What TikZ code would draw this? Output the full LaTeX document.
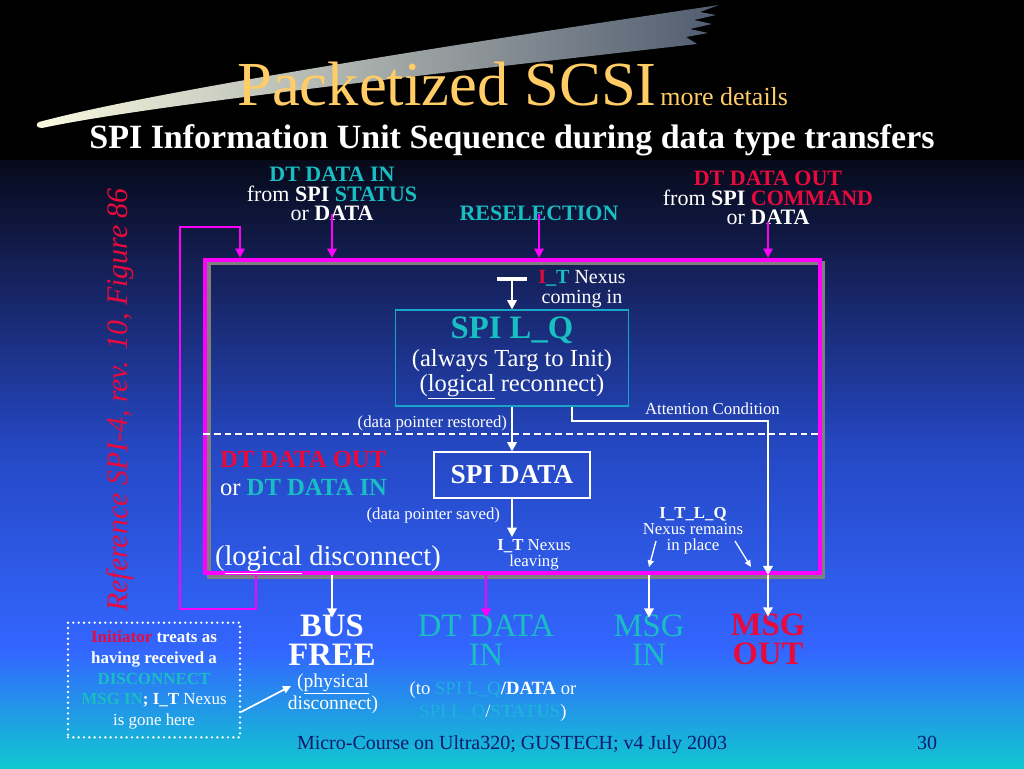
\documentclass[tikz,border=0pt]{standalone}
\usepackage{fontspec}
\setmainfont{Liberation Serif}
\usetikzlibrary{arrows.meta}

\definecolor{bgtop}{RGB}{6,10,26}
\definecolor{bgnavy}{RGB}{20,30,82}
\definecolor{bgmid}{RGB}{37,72,196}
\definecolor{bgblue}{RGB}{51,102,255}
\definecolor{bgcyan}{RGB}{16,200,208}
\definecolor{comethead}{RGB}{250,250,225}
\definecolor{comettail}{RGB}{80,92,112}
\definecolor{ttlgold}{RGB}{255,204,102}
\definecolor{spiteal}{RGB}{25,190,195}
\definecolor{skyteal}{RGB}{30,176,220}
\definecolor{spired}{RGB}{232,10,60}
\definecolor{spimag}{RGB}{255,0,255}
\definecolor{lqedge}{RGB}{25,165,200}
\definecolor{footnavy}{RGB}{14,26,110}

\newcommand{\pxfont}[2]{\fontsize{#1}{#2}\selectfont}

\tikzset{
  txt/.style={text=white, inner sep=0pt, outer sep=0pt, align=center},
  toplbl/.style={txt, font=\pxfont{16.5}{14.6}},
  biglbl/.style={txt, font=\pxfont{24.5}{21.75}, anchor=north},
  smalllbl/.style={txt, font=\pxfont{12.6}{12}},
  whitearrow/.style={draw=white, line width=2pt, -{Triangle[length=7pt,width=7pt]}},
  magarrow/.style={draw=spimag, line width=2pt, -{Triangle[length=7pt,width=7pt]}},
  pointer/.style={draw=white, line width=1pt, -{Triangle[length=5pt,width=4.5pt]}},
  frame/.style={draw=spimag, line width=3pt, minimum width=461pt, minimum height=235pt, inner sep=0pt},
  lqbox/.style={draw=lqedge, line width=0.8pt, minimum width=174.75pt, minimum height=72pt,
    inner sep=0pt, align=center, text=white, font=\pxfont{18.4}{18.75}},
  databox/.style={draw=white, line width=0.8pt, minimum width=117pt, minimum height=34.5pt,
    inner sep=0pt, text=white, font=\pxfont{20.5}{22}\bfseries},
  notebox/.style={draw=white, line width=2pt, dash pattern=on 0pt off 4pt, line cap=round,
    minimum width=129pt, minimum height=86pt, inner sep=0pt, align=center, text=white,
    font=\pxfont{12.7}{15.4}},
}

\begin{document}
\begin{tikzpicture}[x=0.75pt,y=-0.75pt]

  % slide background
  \useasboundingbox (0,0) rectangle (1024,768);
  \fill[black] (0,0) rectangle (1024,161);
  \shade[top color=bgtop, bottom color=bgnavy] (0,160) rectangle (1024,261);
  \shade[top color=bgnavy, bottom color=bgmid] (0,260) rectangle (1024,451);
  \shade[top color=bgmid, bottom color=bgblue] (0,450) rectangle (1024,651);
  \shade[top color=bgblue, bottom color=bgcyan] (0,650) rectangle (1024,768);

  % comet streak behind the title
  \shade[left color=comethead, right color=comettail]
    (39,122) .. controls (150,92) and (450,45) .. (719,5)
    -- (700,12) -- (716,15) -- (694,20) -- (712,24) -- (690,29) -- (708,33)
    -- (686,37) -- (697,44)
    .. controls (450,72) and (150,105) .. (42,128)
    .. controls (36,128) and (35,124) .. (39,122) -- cycle;

  % titles
  \node[anchor=base west, inner sep=0pt, text=ttlgold, font=\pxfont{47}{50}] (title) at (237,105) {Packetized SCSI};
  \node[anchor=base west, inner sep=0pt, text=ttlgold, font=\pxfont{19.5}{22}] (more) at (660,105) {more details};
  \node[anchor=base, txt, font=\pxfont{25.5}{28}\bfseries] (subtitle) at (512,148) {SPI Information Unit Sequence during data type transfers};

  % rotated reference
  \node[rotate=90, inner sep=0pt, text=spired, font=\pxfont{22.4}{24}\itshape] (refnote) at (120,400) {Reference SPI-4, rev. 10, Figure 86};

  % entry labels
  \node[toplbl, anchor=south] (dtinLbl) at (332,221)
    {\textbf{\textcolor{spiteal}{DT DATA IN}}\\from \textbf{SPI} \textbf{\textcolor{spiteal}{STATUS}}\\or \textbf{DATA}};
  \node[toplbl, anchor=south, text=spiteal, font=\pxfont{16.5}{14.6}\bfseries] (reselLbl) at (539,221) {RESELECTION};
  \node[toplbl, anchor=south] (dtoutLbl) at (768,225)
    {\textbf{\textcolor{spired}{DT DATA OUT}}\\from \textbf{SPI} \textbf{\textcolor{spired}{COMMAND}}\\or \textbf{DATA}};

  % main frame with shadow
  \node[frame, draw=gray] (frameShadow) at (516,420) {};
  \node[frame] (frame) at (512.5,416.5) {};
  \coordinate (splitY) at (512,434);
  \draw[white, line width=0.8pt, dash pattern=on 5pt off 3pt] (splitY -| frame.west) -- (splitY -| frame.east);

  % entry arrows
  \draw[magarrow] (dtinLbl.south) ++(0,-7) -- (dtinLbl.south |- frame.north);
  \draw[magarrow] (reselLbl.south) ++(0,-7) -- (reselLbl.south |- frame.north);
  \draw[magarrow] (dtoutLbl.south) ++(0,-3) -- (dtoutLbl.south |- frame.north);

  % nexus coming in
  \coordinate (nexusIn) at (512,279);
  \draw[white, line width=2.5pt] (497,279) -- (527,279);
  \node[txt, anchor=north, font=\pxfont{15}{15}] (nexusLbl) at (582,270)
    {\textbf{\textcolor{spired}{I}\textcolor{spiteal}{\_T}} Nexus\\coming in};

  % SPI L_Q and SPI DATA
  \node[lqbox] (lq) at (512,358)
    {{\pxfont{24.5}{18.75}\bfseries\textcolor{spiteal}{SPI L\_Q}}\\[2pt](always Targ to Init)\\(\underline{logical} reconnect)};
  \node[databox] (data) at (512,475) {SPI DATA};
  \draw[whitearrow] (nexusIn) -- (lq.north);
  \draw[whitearrow] (lq.south) -- (data.north);
  \coordinate (itLeave) at (512,537);
  \draw[whitearrow] (data.south) -- (itLeave);

  \node[smalllbl, anchor=base east] (restored) at (507,427) {(data pointer restored)};
  \node[smalllbl, anchor=base east] (saved) at (500,519) {(data pointer saved)};
  \node[smalllbl, anchor=north] (leaving) at (534,539) {\textbf{I\_T} Nexus\\leaving};

  \node[txt, anchor=north west, align=left, font=\pxfont{18.5}{21}] (phaseLbl) at (220,451)
    {\textbf{\textcolor{spired}{DT DATA OUT}}\\or \textbf{\textcolor{spiteal}{DT DATA IN}}};
  \node[txt, anchor=base west, font=\pxfont{21.4}{24}] (logDisc) at (215,565) {(\underline{logical} disconnect)};

  % attention condition path
  \node[smalllbl, anchor=base west] (attnLbl) at (645,414) {Attention Condition};
  \coordinate (attnX) at (572,421);
  \coordinate (attnCorner) at (768,421);
  \draw[whitearrow] (attnX |- lq.south) |- (attnCorner) -- (attnCorner |- frame.south);

  % nexus remains
  \node[smalllbl, anchor=north] (itlq) at (693,507) {\textbf{I\_T\_L\_Q}\\Nexus remains\\in place};
  \coordinate (remainA) at (656,541);
  \coordinate (remainB) at (735,541);
  \draw[pointer] (remainA) -- (649,567);
  \draw[pointer] (remainB) -- (751,567);

  % exit phases
  \node[biglbl, font=\pxfont{24.5}{21.75}\bfseries] (bus) at (332,615) {BUS\\FREE};
  \node[biglbl, text=spiteal] (dtin) at (486,615) {DT DATA\\IN};
  \node[biglbl, text=spiteal] (msgin) at (649,615) {MSG\\IN};
  \node[biglbl, text=spired, font=\pxfont{24.5}{21.75}\bfseries] (msgout) at (768,614) {MSG\\OUT};

  \draw[whitearrow] (bus.north |- frame.south) -- ([yshift=-2pt]bus.north);
  \draw[magarrow] (dtin.north |- frame.south) -- ([yshift=-2pt]dtin.north);
  \draw[whitearrow] (msgin.north |- frame.south) -- ([yshift=-2pt]msgin.north);
  \draw[whitearrow] (msgout.north |- frame.south) -- ([yshift=-2pt]msgout.north);

  % loop back to the top
  \coordinate (loopOut) at (256,609);
  \coordinate (loopTop) at (180,227);
  \coordinate (loopIn) at (240,227);
  \draw[magarrow] (loopOut |- frame.south) -- (loopOut) -| (loopTop) -- (loopIn) -- (loopIn |- frame.north);

  % notes below
  \node[txt, anchor=north, font=\pxfont{14.7}{16.5}] (physical) at (333,674) {(\underline{physical}\\disconnect)};
  \node[txt, anchor=north, font=\pxfont{14}{17}] (toLq) at (493,682)
    {(to \textcolor{skyteal}{SPI L\_Q}\textbf{/DATA} or\\\textcolor{skyteal}{SPI L\_Q}/\textbf{\textcolor{skyteal}{STATUS}})};

  \node[notebox] (note) at (154,680)
    {{\bfseries\textcolor{spired}{Initiator} treats as}\\{\bfseries having received a}\\{\bfseries\textcolor{spiteal}{DISCONNECT}}\\{\bfseries\textcolor{spiteal}{MSG IN}; I\_T} Nexus\\is gone here};
  \coordinate (noteOut) at (241,712);
  \coordinate (physIn) at (291,686);
  \draw[draw=white, line width=1.3pt, -{Triangle[length=6pt,width=5.5pt]}] (noteOut) -- (physIn);

  % footer
  \node[anchor=base, inner sep=0pt, text=footnavy, font=\pxfont{15}{18}] (footer) at (512,749) {Micro-Course on Ultra320; GUSTECH; v4 July 2003};
  \node[anchor=base, inner sep=0pt, text=footnavy, font=\pxfont{15}{18}] (pageNo) at (927,749) {30};

\end{tikzpicture}
\end{document}
